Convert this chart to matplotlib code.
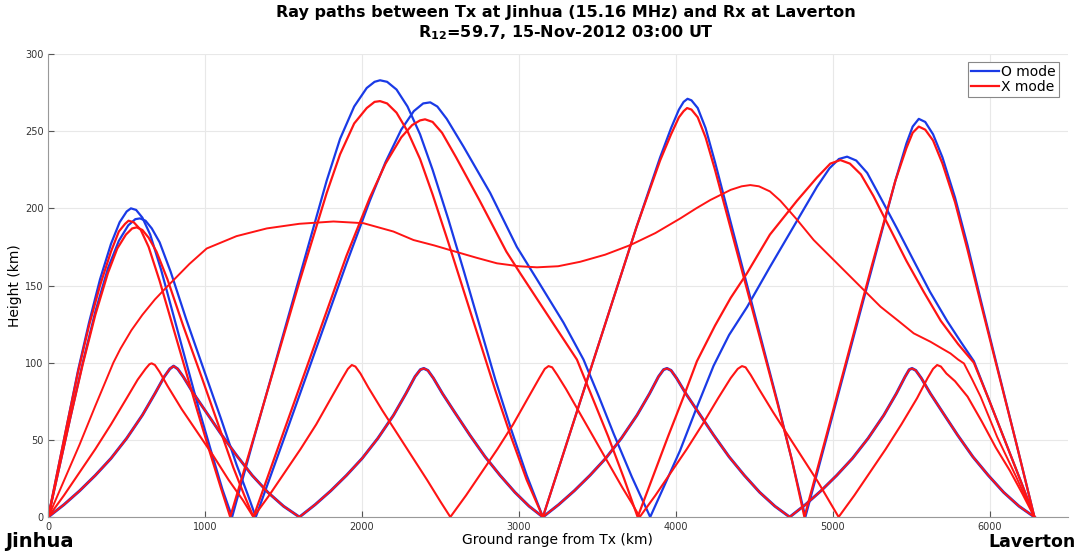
import matplotlib
matplotlib.use('Agg')
import matplotlib.pyplot as plt
from matplotlib.lines import Line2D

# ray paths: ground range (km) and height (km)

# O mode, 4-hop F ray
o_a_x = [0, 60, 120, 190, 260, 330, 400, 455, 500, 527, 560, 600, 650, 720, 800, 880, 960, 1040, 1110, 1172,
         1300, 1450, 1600, 1775, 1860, 1950, 2030, 2080, 2115, 2160, 2220, 2290, 2370, 2450, 2550, 2650, 2750, 2850, 2950, 3050, 3153,
         3350, 3550, 3750, 3900, 3970, 4020, 4050, 4075, 4100, 4140, 4190, 4250, 4350, 4450, 4550, 4650, 4740, 4826,
         4950, 5100, 5250, 5400, 5470, 5510, 5549, 5590, 5640, 5700, 5780, 5860, 5943, 6050, 6170, 6286]
o_a_h = [0, 30, 60, 95, 126, 154, 177, 191, 198, 200, 199, 194, 183, 160, 130, 100, 70, 42, 18, 0,
         47, 101, 155, 218, 245, 266, 278, 282, 283, 282, 277, 266, 248, 225, 193, 159, 124, 89, 57, 27, 0,
         62, 125, 188, 233, 252, 264, 269, 271, 270, 265, 252, 230, 191, 152, 113, 74, 37, 0,
         47, 104, 161, 218, 242, 253, 258, 256, 248, 233, 207, 176, 141, 97, 48, 0]

# X mode, 4-hop F ray
x_a_x = [0, 60, 120, 190, 260, 330, 400, 450, 490, 512, 545, 590, 640, 710, 790, 870, 950, 1030, 1100, 1160,
         1300, 1450, 1600, 1775, 1860, 1950, 2030, 2080, 2115, 2160, 2220, 2290, 2370, 2450, 2550, 2650, 2750, 2850, 2950, 3050, 3153,
         3350, 3550, 3750, 3900, 3970, 4020, 4050, 4072, 4100, 4140, 4190, 4250, 4350, 4450, 4550, 4650, 4740, 4820,
         4950, 5100, 5250, 5400, 5470, 5510, 5549, 5590, 5640, 5700, 5780, 5860, 5943, 6050, 6170, 6286]
x_a_h = [0, 30, 60, 94, 124, 150, 172, 185, 190, 192, 191, 186, 175, 153, 125, 97, 69, 42, 19, 0,
         48, 100, 152, 210, 235, 255, 265, 269, 269.5, 268, 262, 250, 232, 209, 178, 146, 114, 82, 52, 24, 0,
         62, 125, 188, 231, 248, 259, 263, 265, 264, 259, 246, 225, 187, 149, 111, 73, 37, 0,
         49, 106, 163, 218, 239, 249, 253, 251, 244, 229, 204, 173, 139, 96, 48, 0]

# O mode, 3-hop F ray
o_b_x = [0, 70, 140, 220, 300, 380, 450, 510, 555, 585, 620, 660, 710, 780, 880, 1000, 1100, 1200, 1270, 1323,
         1500, 1700, 1900, 2050, 2150, 2250, 2330, 2390, 2435, 2480, 2540, 2647, 2817, 2987, 3115, 3284, 3412, 3510, 3604, 3720, 3837,
         3930, 4027, 4130, 4241, 4340, 4454, 4600, 4773, 4900, 4980, 5040, 5092, 5150, 5220, 5305, 5410, 5517, 5620, 5730, 5820, 5900,
         6000, 6100, 6200, 6286]
o_b_h = [0, 32, 64, 100, 133, 161, 179, 189, 193, 193.5, 192, 187, 178, 159, 128, 93, 64, 34, 15, 0,
         50, 107, 164, 205, 230, 251, 263, 268, 268.7, 266, 258, 240, 210, 175, 154, 126, 102, 78, 54, 26, 0,
         21, 43, 70, 98, 118, 136, 162, 192, 214, 226, 232, 233.5, 231, 223, 207, 187, 166, 146, 127, 113, 101,
         75, 49, 23, 0]

# X mode, 3-hop F ray
x_b_x = [0, 70, 140, 220, 300, 380, 440, 495, 535, 564, 600, 640, 690, 760, 860, 980, 1080, 1180, 1250, 1308,
         1500, 1700, 1900, 2050, 2150, 2250, 2320, 2370, 2402, 2450, 2510, 2600, 2750, 2920, 3008, 3150, 3260, 3370, 3470, 3570, 3670, 3757,
         3850, 3950, 4050, 4135, 4250, 4350, 4454, 4600, 4773, 4900, 4985, 5049, 5110, 5180, 5260, 5360, 5470, 5580, 5690, 5800, 5900,
         6000, 6100, 6200, 6286]
x_b_h = [0, 32, 64, 99, 131, 158, 174, 183, 187, 187.7, 186, 181, 172, 154, 124, 90, 61, 32, 14, 0,
         55, 112, 169, 207, 229, 246, 254, 257, 257.7, 256, 249, 233, 205, 172, 158, 136, 119, 102, 77, 52, 25, 0,
         25, 52, 78, 101, 124, 142, 158, 183, 205, 220, 229, 231.3, 229, 222, 208, 188, 166, 146, 127, 112, 100,
         75, 49, 23, 0]

# X mode, 1-hop high ray
x_hi_x = [0, 200, 300, 370, 415, 460, 530, 600, 680, 755, 900, 1010, 1200, 1393, 1600, 1818, 2009, 2200, 2328, 2460,
          2594, 2730, 2860, 3000, 3115, 3250, 3391, 3550, 3710, 3870, 4029, 4130, 4220, 4350, 4420, 4475, 4530, 4600,
          4666, 4770, 4879, 5092, 5305, 5420, 5517, 5623, 5700, 5751, 5800, 5837, 5890, 5943, 6048, 6170, 6286]
x_hi_h = [0, 47, 72, 89, 100, 109, 121, 131, 141, 149, 164, 174, 182, 187, 190, 191.5, 190.4, 185, 179.5, 176,
          172, 168, 164.4, 162.5, 161.8, 162.5, 165.4, 170, 176.2, 184, 193.5, 200, 205.4, 212, 214.3, 215.1, 214.3, 211,
          205, 193, 179.5, 157.9, 136.3, 127, 119, 113.6, 109, 106, 102, 99.5, 89, 78, 52, 26, 0]

# 4-hop E ray (O and X almost on top of each other)
e4_x = [0, 100, 200, 300, 400, 500, 600, 680, 740, 775, 799, 825, 860, 920, 1000, 1100, 1200, 1300, 1400, 1500, 1601,
        1701, 1801, 1901, 2001, 2101, 2201, 2280, 2338, 2372, 2394, 2420, 2455, 2513, 2590, 2688, 2785, 2880, 2975, 3065, 3153,
        3253, 3353, 3453, 3553, 3653, 3753, 3833, 3890, 3922, 3944, 3970, 4005, 4064, 4143, 4242, 4340, 4437, 4535, 4632, 4726,
        4826, 4926, 5026, 5126, 5226, 5326, 5406, 5462, 5488, 5506, 5530, 5565, 5623, 5700, 5797, 5894, 5992, 6090, 6188, 6286]
e4_h = [0, 8, 17, 27, 38, 51, 66, 80, 91, 96, 97.8, 96, 91, 81, 69, 54, 40, 27, 16, 7, 0,
        8, 17, 27, 38, 51, 66, 80, 91, 95.5, 96.3, 95, 90, 80, 68, 53, 39, 27, 16, 7, 0,
        8, 17, 27, 38, 51, 66, 80, 91, 95.5, 96.3, 95, 90, 80, 68, 53, 39, 27, 16, 7, 0,
        8, 17, 27, 38, 51, 66, 80, 91, 95.5, 96.3, 95, 90, 80, 68, 53, 39, 27, 16, 7, 0]

# X mode, 5-hop E ray
e5_x = [0, 100, 200, 300, 400, 500, 570, 620, 645, 659, 680, 710, 760, 850, 950, 1050, 1150, 1240, 1308,
        1408, 1508, 1608, 1708, 1808, 1875, 1910, 1935, 1958, 1990, 2040, 2130, 2225, 2320, 2415, 2500, 2563,
        2663, 2763, 2863, 2963, 3063, 3130, 3165, 3189, 3212, 3245, 3300, 3390, 3480, 3570, 3660, 3720, 3770,
        3870, 3970, 4070, 4170, 4270, 4350, 4395, 4422, 4445, 4478, 4530, 4620, 4715, 4810, 4905, 4980, 5038,
        5138, 5238, 5338, 5438, 5538, 5605, 5640, 5666, 5690, 5725, 5780, 5860, 5950, 6040, 6130, 6210, 6286]
e5_h = [0, 14, 29, 44, 60, 77, 89, 96, 99, 99.6, 98.5, 94, 85, 70, 55, 40, 24, 11, 0,
        14, 29, 44, 60, 78, 90, 96, 98.5, 97.5, 93, 84, 69, 54, 39, 24, 10, 0,
        14, 29, 44, 60, 78, 90, 96, 97.8, 97, 92, 83, 67, 51, 35, 19, 9, 0,
        14, 29, 44, 60, 77, 90, 96, 97.8, 97, 92, 83, 68, 53, 38, 23, 10, 0,
        14, 29, 44, 60, 77, 90, 96, 98.5, 97.5, 93, 88, 78, 62, 45, 30, 15, 0]

x_ticks = [0, 1000, 2000, 3000, 4000, 5000, 6000]
y_ticks = [0, 50, 100, 150, 200, 250, 300]

blue = '#1a3ae6'
red = '#ff1414'

fig = plt.figure(figsize=(10.89, 5.56), dpi=100)
ax = fig.add_axes([0.0443, 0.0701, 0.9364, 0.8327])

# blue first, red drawn over it
ax.plot(e4_x, e4_h, color=blue, lw=2.1)
ax.plot(o_a_x, o_a_h, color=blue, lw=1.6)
ax.plot(o_b_x, o_b_h, color=blue, lw=1.6)
ax.plot(e4_x, e4_h, color=red, lw=1.4)
ax.plot(e5_x, e5_h, color=red, lw=1.5)
ax.plot(x_a_x, x_a_h, color=red, lw=1.6)
ax.plot(x_b_x, x_b_h, color=red, lw=1.6)
ax.plot(x_hi_x, x_hi_h, color=red, lw=1.4)

ax.set_xlim(0, 6500)
ax.set_ylim(0, 300)
ax.set_xticks(x_ticks)
ax.set_yticks(y_ticks)
ax.tick_params(direction='in', length=4, labelsize=7, colors='#555555', labelcolor='#333333')
ax.grid(True, color='#e8e8e8', lw=0.8)
ax.set_axisbelow(True)
for s in ['top', 'right']:
    ax.spines[s].set_visible(False)
for s in ['left', 'bottom']:
    ax.spines[s].set_color('#999999')

fig.text(0.014, 0.486, 'Height (km)', ha='center', va='center', rotation=90, fontsize=10)
fig.text(0.512, 0.028, 'Ground range from Tx (km)', ha='center', va='center', fontsize=10)

fig.text(0.52, 0.977, 'Ray paths between Tx at Jinhua (15.16 MHz) and Rx at Laverton',
         ha='center', va='center', fontsize=11.5, fontweight='bold')
fig.text(0.52, 0.941, r'R$_{\mathbf{12}}$=59.7, 15-Nov-2012 03:00 UT',
         ha='center', va='center', fontsize=11.5, fontweight='bold')

fig.text(0.005, 0.026, 'Jinhua', ha='left', va='center', fontsize=14, fontweight='bold')
fig.text(0.988, 0.026, 'Laverton', ha='right', va='center', fontsize=12.5, fontweight='bold')

handles = [Line2D([], [], color=blue, lw=1.6), Line2D([], [], color=red, lw=1.6)]
leg = ax.legend(handles, ['O mode', 'X mode'], loc='upper right', bbox_to_anchor=(0.991, 0.983),
                borderaxespad=0, fontsize=10, handlelength=2.0, handletextpad=0.2,
                labelspacing=0.1, borderpad=0.2, fancybox=False, framealpha=1)
leg.get_frame().set_edgecolor('#888888')
leg.get_frame().set_linewidth(0.8)

plt.savefig('out.png', dpi=100)
